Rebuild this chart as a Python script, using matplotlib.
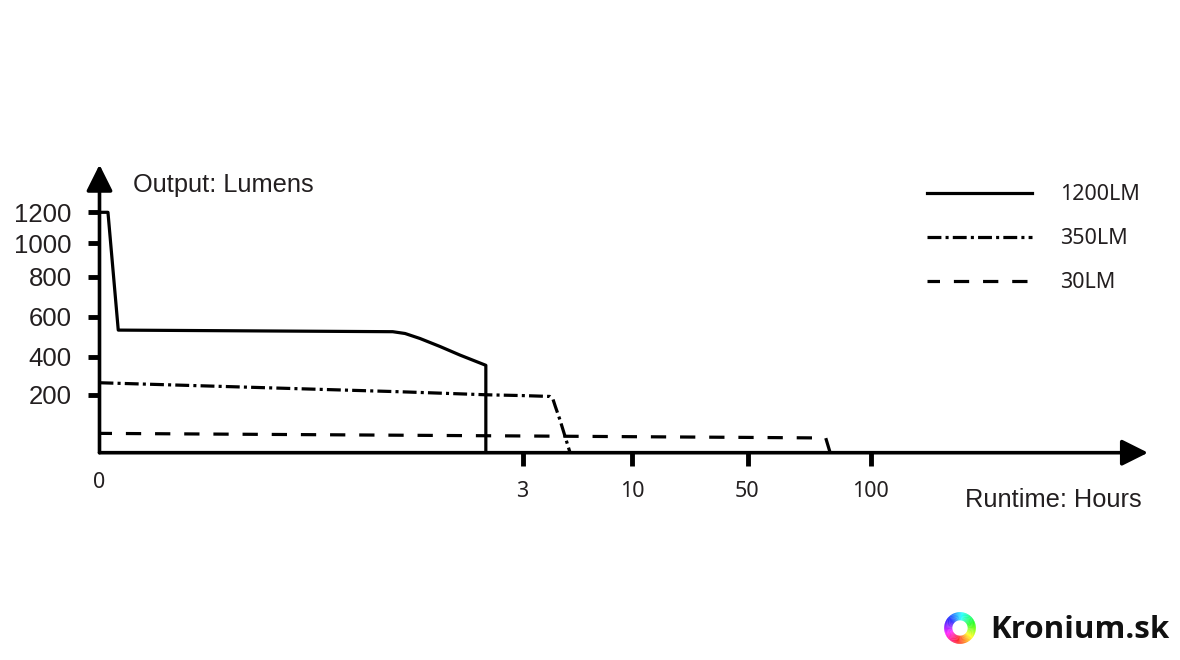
import numpy as np
import matplotlib
matplotlib.use("Agg")
import matplotlib.pyplot as plt
from matplotlib.patches import Wedge
import matplotlib.colors as mcolors

plt.rcParams['lines.scale_dashes'] = False

# tick values and where they sit along the (hand drawn, non linear) axes
x_ticks = [0, 3, 10, 50, 100]
x_pos = [0, 423, 532.5, 648, 771]
y_ticks = [0, 200, 400, 600, 800, 1000, 1200]
y_pos = [0, 57.7, 96, 136, 176, 209.4, 240.4]

# runtime curves (hours, lumens)
hours_1200 = [0, 0.06, 0.133, 2.08, 2.167, 2.273, 2.415, 2.557, 2.74, 2.74]
lm_1200 = [1200, 1200, 533, 525, 516, 491, 451, 408, 355, 0]

hours_350 = [0, 2.13, 2.75, 3, 4.75, 4.95, 5.1, 5.4, 6.04]
lm_350 = [264, 217, 201, 198, 195, 185, 160, 113, 0]

hours_30 = [0, 3, 10, 50, 81.8, 83.6]
lm_30 = [67, 58, 55.5, 53, 51, 0]


def make_scale(ticks, pos):
    ticks = np.asarray(ticks, float)
    pos = np.asarray(pos, float)
    s0 = (pos[1] - pos[0]) / (ticks[1] - ticks[0])
    s1 = (pos[-1] - pos[-2]) / (ticks[-1] - ticks[-2])

    def fwd(v):
        v = np.asarray(v, float)
        out = np.interp(v, ticks, pos)
        out = np.where(v > ticks[-1], pos[-1] + (v - ticks[-1]) * s1, out)
        out = np.where(v < ticks[0], pos[0] + (v - ticks[0]) * s0, out)
        return out

    def inv(p):
        p = np.asarray(p, float)
        out = np.interp(p, pos, ticks)
        out = np.where(p > pos[-1], ticks[-1] + (p - pos[-1]) / s1, out)
        out = np.where(p < pos[0], ticks[0] + (p - pos[0]) / s0, out)
        return out
    return fwd, inv


fig = plt.figure(figsize=(11.8, 6.6), dpi=100)
W, H = 1180, 660
x0, y0 = 99.5, 452.7
ax_w, ax_h = 1048.5, 288
ax = fig.add_axes([x0 / W, 1 - y0 / H, ax_w / W, ax_h / H])

ax.set_xscale('function', functions=make_scale(x_ticks, x_pos))
ax.set_yscale('function', functions=make_scale(y_ticks, y_pos))
ax.set_xlim(0, 100 + (ax_w - 771) / ((771 - 648) / 50))
ax.set_ylim(0, 1200 + (ax_h - 240.4) / ((240.4 - 209.4) / 200))

lw = 2.3
ax.plot(hours_1200, lm_1200, color='black', lw=lw, label='1200LM',
        solid_joinstyle='round')
ax.plot(hours_350, lm_350, color='black', lw=lw, label='350LM',
        linestyle=(0, (10, 3, 2.2, 3)))
ax.plot(hours_30, lm_30, color='black', lw=lw, label='30LM',
        linestyle=(2, (11, 10)))

for s in ax.spines.values():
    s.set_visible(False)
ax.annotate('', xy=(1, 0), xytext=(0, 0), xycoords='axes fraction',
            arrowprops=dict(arrowstyle='-|>', lw=2.6, color='black',
                            mutation_scale=40, shrinkA=0, shrinkB=0))
ax.annotate('', xy=(0, 1), xytext=(0, 0), xycoords='axes fraction',
            arrowprops=dict(arrowstyle='-|>', lw=2.6, color='black',
                            mutation_scale=40, shrinkA=0, shrinkB=0))

ax.set_yticks(y_ticks[1:])
ax.set_yticklabels([str(v) for v in y_ticks[1:]], fontsize=18.5,
                   family='Liberation Sans', color='#231f20')
ax.tick_params(axis='y', length=9, width=3.5, pad=11, color='black')
ax.set_xticks(x_ticks[1:])
ax.set_xticklabels([str(v) for v in x_ticks[1:]], fontsize=15.5,
                   family='Noto Sans', color='#231f20')
ax.tick_params(axis='x', length=9, width=3.5, pad=11.5, color='black')
ax.minorticks_off()

fig.text(x0 / W, 1 - 483 / H, '0', fontsize=15.5, family='Noto Sans',
         ha='center', va='center', color='#231f20')
fig.text(133 / W, 1 - 185 / H, 'Output: Lumens', fontsize=18.3,
         family='Liberation Sans', ha='left', va='center', color='#231f20')
fig.text(1142 / W, 1 - 500 / H, 'Runtime: Hours', fontsize=18.3,
         family='Liberation Sans', ha='right', va='center', color='#231f20')

leg = ax.legend(loc='upper left', bbox_to_anchor=(927 / W, 1 - 184.5 / H),
                bbox_transform=fig.transFigure, frameon=False,
                borderpad=0, borderaxespad=0, handlelength=4.88,
                handletextpad=1.3, labelspacing=1.06,
                prop=dict(family='Noto Sans', size=15.5))
for t in leg.get_texts():
    t.set_color('#231f20')

# watermark
rax = fig.add_axes([(960 - 18) / W, 1 - (628 + 18) / H, 36 / W, 36 / H])
rax.set_xlim(-1, 1)
rax.set_ylim(-1, 1)
rax.set_aspect('equal')
rax.axis('off')
for a in range(0, 360, 4):
    c = mcolors.hsv_to_rgb([((a + 100) % 360) / 360, 0.85, 1.0])
    rax.add_patch(Wedge((0, 0), 0.88, a, a + 5, width=0.45, color=c, lw=0))
fig.text(990 / W, 1 - 630 / H, 'Kronium.sk', fontsize=22.5, family='Open Sans',
         weight='bold', ha='left', va='center', color='#111111')

fig.savefig('out.png', dpi=100)
